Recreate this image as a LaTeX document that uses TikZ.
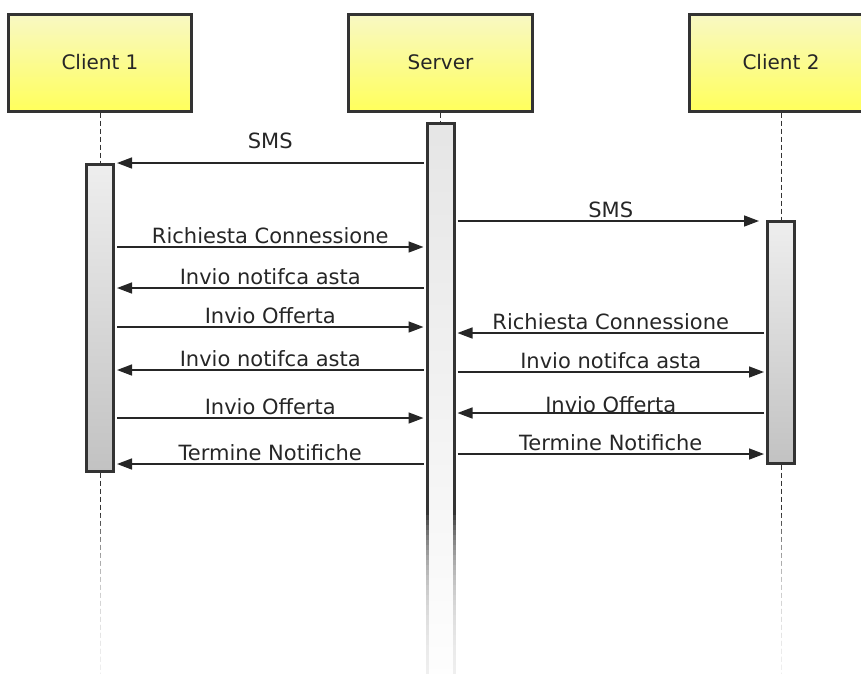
\documentclass[tikz,border=0pt]{standalone}
\usepackage{fontspec}
\setmainfont{DejaVu Sans}
\usetikzlibrary{positioning,arrows.meta}
\definecolor{boxline}{HTML}{333333}
\definecolor{boxtop}{HTML}{F8F8C4}
\definecolor{boxbot}{HTML}{FFFF5C}
\definecolor{bartop}{HTML}{EEEEEE}
\definecolor{barbot}{HTML}{C2C2C2}
\tikzset{
  head/.style={draw=boxline, line width=3pt, shape=rectangle, minimum width=183pt, minimum height=97pt,
    top color=boxtop, bottom color=boxbot, text=black!85, font=\fontsize{20}{24}\selectfont},
  bar/.style={draw=boxline, line width=3pt, shape=rectangle, minimum width=27pt, inner sep=0pt,
    top color=bartop, bottom color=barbot},
  life/.style={draw=boxline, line width=1pt, dash pattern=on 5pt off 3pt},
  msg/.style={draw=black!85, line width=1.5pt, shorten >=2pt, shorten <=2pt,
    -{Triangle[length=15pt,width=11pt]}},
  lbl/.style={anchor=base, yshift=4pt, inner sep=0pt, text=black!85, font=\fontsize{21}{25}\selectfont},
}
\begin{document}
\begin{tikzpicture}[x=1pt,y=-1pt]
  \useasboundingbox (0,0) rectangle (861,673);
  \matrix [column sep=154.5pt] at (440.5,62.5) {
    \node[head] (c1) {Client 1};
    & \node[head] (srv) {Server};
    & \node[head] (cl2) {Client 2}; \\
  };
  % activation bars
  \node[bar, below=50pt of c1, minimum height=307pt] (c1bar) {};
  \node[bar, below=9pt of srv, minimum height=580pt, top color=black!10, bottom color=white] (srvbar) {};
  \node[bar, below=107pt of cl2, minimum height=242pt] (cl2bar) {};
  \coordinate (c1end) at (c1bar.south |- 0,673);
  \coordinate (cl2end) at (cl2bar.south |- 0,673);
  % lifelines
  \draw[life] (c1) -- (c1bar);
  \draw[life] (c1bar) -- (c1end);
  \draw[life] (srv) -- (srvbar);
  \draw[life] (cl2) -- (cl2bar);
  \draw[life] (cl2bar) -- (cl2end);
  % messages client 1 <-> server
  \draw[msg] (srvbar.west |- 0,163) -- node[lbl, yshift=11pt] {SMS} (c1bar.east |- 0,163);
  \draw[msg] (c1bar.east |- 0,247) -- node[lbl] {Richiesta Connessione} (srvbar.west |- 0,247);
  \draw[msg] (srvbar.west |- 0,288) -- node[lbl] {Invio notifca asta} (c1bar.east |- 0,288);
  \draw[msg] (c1bar.east |- 0,327) -- node[lbl] {Invio Offerta} (srvbar.west |- 0,327);
  \draw[msg] (srvbar.west |- 0,370) -- node[lbl] {Invio notifca asta} (c1bar.east |- 0,370);
  \draw[msg] (c1bar.east |- 0,418) -- node[lbl] {Invio Offerta} (srvbar.west |- 0,418);
  \draw[msg] (srvbar.west |- 0,464) -- node[lbl] {Termine Notifiche} (c1bar.east |- 0,464);
  % messages server <-> client 2
  \draw[msg, shorten >=7pt] (srvbar.east |- 0,221) -- node[lbl] {SMS} (cl2bar.west |- 0,221);
  \draw[msg] (cl2bar.west |- 0,333) -- node[lbl] {Richiesta Connessione} (srvbar.east |- 0,333);
  \draw[msg] (srvbar.east |- 0,372) -- node[lbl] {Invio notifca asta} (cl2bar.west |- 0,372);
  \draw[msg] (cl2bar.west |- 0,413) -- node[lbl, yshift=-3pt] {Invio Offerta} (srvbar.east |- 0,413);
  \draw[msg] (srvbar.east |- 0,454) -- node[lbl] {Termine Notifiche} (cl2bar.west |- 0,454);
  % fade out at the bottom
  \foreach \i in {1,...,32}
    \fill[white, opacity=0.09] (0,510+5*\i) rectangle (861,720);
\end{tikzpicture}
\end{document}
